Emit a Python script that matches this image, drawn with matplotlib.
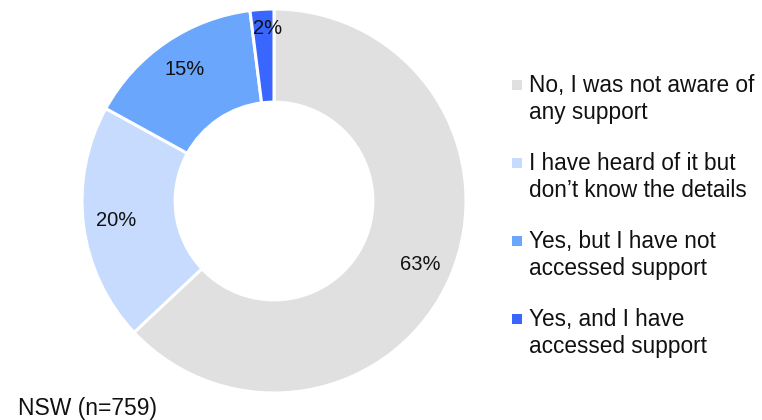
import matplotlib
matplotlib.use("Agg")
import matplotlib.pyplot as plt
from matplotlib.patches import Rectangle

plt.rcParams['font.family'] = ['Liberation Sans', 'DejaVu Sans']

# survey answers, NSW
labels = ["No, I was not aware of\nany support",
          "I have heard of it but\ndon\u2019t know the details",
          "Yes, but I have not\naccessed support",
          "Yes, and I have\naccessed support"]
values = [63, 20, 15, 2]
colors = ["#e0e0e0", "#c6dbfd", "#6ba6fd", "#3866ff"]
sample = "NSW (n=759)"

W, H = 762, 420
fig = plt.figure(figsize=(W / 100, H / 100), dpi=100)

# donut centre ~ (274, 201) px, outer radius ~192 px
cx, cy, r = 274, 201, 192
ax = fig.add_axes([(cx - r) / W, (H - cy - r) / H, 2 * r / W, 2 * r / H])
wedges, texts, autotexts = ax.pie(
    values, colors=colors, startangle=90, counterclock=False,
    radius=1, autopct=lambda p: "%d%%" % round(p), pctdistance=0.83,
    wedgeprops=dict(width=0.485, edgecolor="white", linewidth=2.2),
    textprops=dict(fontsize=14.5, color="#111111"))
px, py = autotexts[-1].get_position()
autotexts[-1].set_position((px + 0.02, py + 0.07))
ax.set_xlim(-1, 1)
ax.set_ylim(-1, 1)
ax.set_aspect("equal")
ax.axis("off")

# legend, drawn by hand so the squares sit on the first line
x0, y0, step = 529, 85, 78
for i, (lab, col) in enumerate(zip(labels, colors)):
    y = y0 + i * step
    fig.text(x0 / W, 1 - (y - 11) / H, lab, fontsize=16.3, va="top",
             ha="left", color="#111111", linespacing=1.2)
    fig.add_artist(Rectangle(((x0 - 17) / W, 1 - (y + 5) / H), 10 / W, 10 / H,
                             transform=fig.transFigure, facecolor=col,
                             edgecolor="none"))

fig.text(18 / W, 1 - 409 / H, sample, fontsize=16.5, va="center", ha="left",
         color="#111111")

fig.savefig("out.png", dpi=100)
